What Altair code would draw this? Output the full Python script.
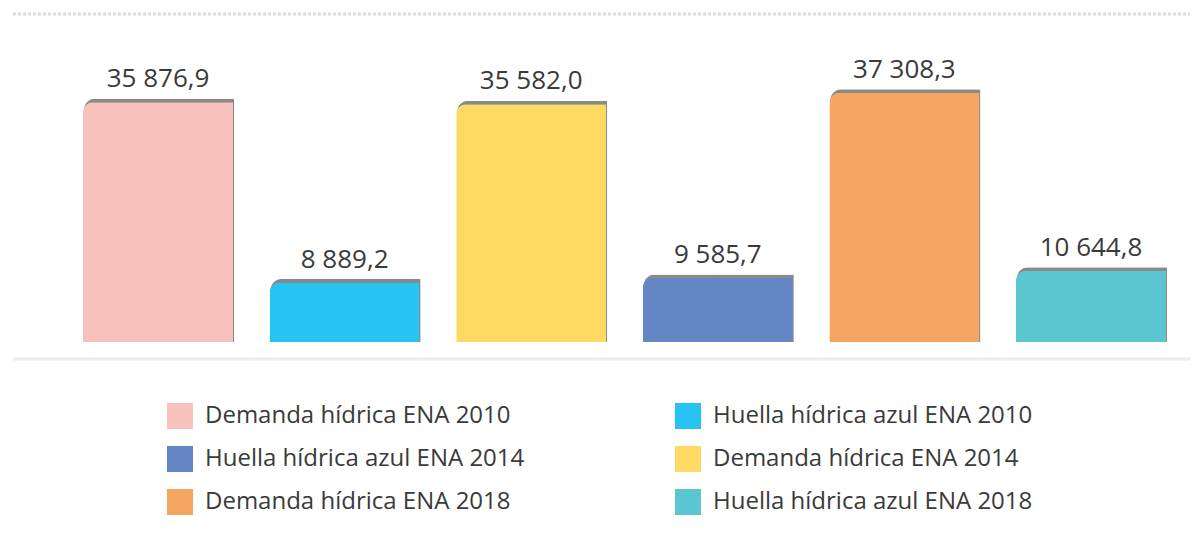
import altair as alt
import pandas as pd

categories = [
    "Demanda hídrica  ENA 2010",
    "Huella hídrica azul ENA 2010",
    "Demanda hídrica ENA 2014",
    "Huella hídrica azul ENA 2014",
    "Demanda hídrica  ENA 2018",
    "Huella hídrica azul ENA 2018",
]
values = [35876.9, 8889.2, 35582.0, 9585.7, 37308.3, 10644.8]
colors = ["#F8C2BC", "#27C4F1", "#FEDA62", "#6586C5", "#F4A660", "#5BC5D0"]
# legend is filled column by column: left column first, then right column
legend_order = [0, 3, 4, 1, 2, 5]


def fmt(v):
    s = f"{v:,.1f}"
    return s.replace(",", " ").replace(".", ",")


df = pd.DataFrame({"cat": categories, "value": values, "label": [fmt(v) for v in values]})

legend_domain = [categories[i] for i in legend_order]
legend_range = [colors[i] for i in legend_order]

FONT = "Open Sans"
TXT = "#3a3a3a"

x_enc = alt.X("cat:N", sort=categories, axis=None,
              scale=alt.Scale(range=[75, 1158], paddingInner=0.196, paddingOuter=0))
y_scale = alt.Scale(domain=[0, 50000], range=[334, 0])
y_enc = alt.Y("value:Q", axis=None, scale=y_scale)

base = alt.Chart(df)

# thin grey edge on top of each bar (about 3.5 px in data units of the y scale)
shadow = base.transform_calculate(edge="datum.value + 530").mark_bar(
    color="#8a8a8a", cornerRadiusTopLeft=11, xOffset=1
).encode(
    x=x_enc, y=alt.Y("edge:Q", axis=None, scale=y_scale)
)

bars = base.mark_bar(cornerRadiusTopLeft=10).encode(
    x=x_enc,
    y=y_enc,
    color=alt.Color(
        "cat:N",
        scale=alt.Scale(domain=legend_domain, range=legend_range),
        legend=alt.Legend(
            title=None,
            orient="none",
            legendX=159,
            legendY=395,
            columns=2,
            columnPadding=150,
            rowPadding=17,
            symbolType="square",
            symbolSize=676,
            symbolStrokeWidth=0,
            symbolOpacity=1,
            labelFont=FONT,
            labelFontSize=24,
            labelColor=TXT,
            labelOffset=12,
            labelLimit=600,
        ),
    ),
)

labels = base.mark_text(font=FONT, fontSize=26, color=TXT, baseline="alphabetic", dy=-15).encode(
    x=x_enc, y=y_enc, text="label:N"
)

line_df = pd.DataFrame({"k": [0]})
top_rule = alt.Chart(line_df).mark_rule(color="#dcdcdc", strokeWidth=3, strokeDash=[3, 2]).encode(
    x=alt.value(5), x2=alt.value(1182), y=alt.value(6)
)
base_rule = alt.Chart(line_df).mark_rule(color="#ececec", strokeWidth=3).encode(
    x=alt.value(5), x2=alt.value(1182), y=alt.value(351)
)

chart = alt.layer(top_rule, base_rule, shadow, bars, labels).properties(
    width=1182,
    height=517,
    padding=0,
    autosize=alt.AutoSizeParams(type="none"),
).configure_view(stroke=None)

chart.save("out.html", embed_options={"renderer": "svg", "actions": False})
